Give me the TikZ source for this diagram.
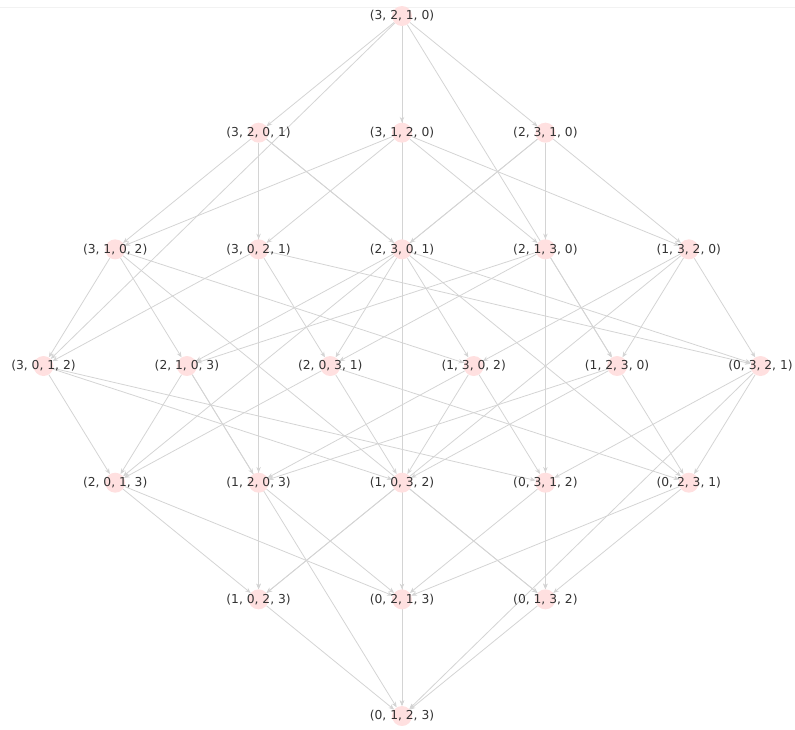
\documentclass[tikz,border=0pt]{standalone}
\usepackage{fontspec}
\setsansfont{DejaVu Sans}
\usepackage{tikz}
\usetikzlibrary{arrows.meta, backgrounds}
\definecolor{rosaNodo}{RGB}{255,224,224}
\definecolor{grisArista}{RGB}{212,212,212}
\definecolor{grisPunta}{RGB}{185,185,185}
\definecolor{grisTexto}{RGB}{51,51,51}
\newcommand{\permlbl}[1]{\makebox[0pt]{(#1)}}
\tikzset{
  bg/perm/.style={circle, fill=rosaNodo, draw=none, inner sep=0pt,
    minimum size=20pt, font=\sffamily\fontsize{12.3}{14}\selectfont,
    text=grisTexto},
  bg/arr/.style={-{Stealth[length=5.5pt,width=4.5pt,fill=grisPunta]},
    line width=0.8pt, draw=grisArista}
}

\begin{document}
\begin{tikzpicture}[x=71.7pt, y=-116.67pt]
  \useasboundingbox (-402pt,16pt) rectangle (393pt,-713pt);
  \draw[black!5] (-402pt,9pt) -- (393pt,9pt);

  % rango 6
  \node[bg/perm] (p3210) at (0,0) {\permlbl{3, 2, 1, 0}};
  % rango 5
  \node[bg/perm] (p3201) at (-2,1) {\permlbl{3, 2, 0, 1}};
  \node[bg/perm] (p3120) at (0,1)  {\permlbl{3, 1, 2, 0}};
  \node[bg/perm] (p2310) at (2,1)  {\permlbl{2, 3, 1, 0}};
  % rango 4
  \node[bg/perm] (p3102) at (-4,2) {\permlbl{3, 1, 0, 2}};
  \node[bg/perm] (p3021) at (-2,2) {\permlbl{3, 0, 2, 1}};
  \node[bg/perm] (p2301) at (0,2)  {\permlbl{2, 3, 0, 1}};
  \node[bg/perm] (p2130) at (2,2)  {\permlbl{2, 1, 3, 0}};
  \node[bg/perm] (p1320) at (4,2)  {\permlbl{1, 3, 2, 0}};
  % rango 3
  \node[bg/perm] (p3012) at (-5,3) {\permlbl{3, 0, 1, 2}};
  \node[bg/perm] (p2103) at (-3,3) {\permlbl{2, 1, 0, 3}};
  \node[bg/perm] (p2031) at (-1,3) {\permlbl{2, 0, 3, 1}};
  \node[bg/perm] (p1302) at (1,3)  {\permlbl{1, 3, 0, 2}};
  \node[bg/perm] (p1230) at (3,3)  {\permlbl{1, 2, 3, 0}};
  \node[bg/perm] (p0321) at (5,3)  {\permlbl{0, 3, 2, 1}};
  % rango 2
  \node[bg/perm] (p2013) at (-4,4) {\permlbl{2, 0, 1, 3}};
  \node[bg/perm] (p1203) at (-2,4) {\permlbl{1, 2, 0, 3}};
  \node[bg/perm] (p1032) at (0,4)  {\permlbl{1, 0, 3, 2}};
  \node[bg/perm] (p0312) at (2,4)  {\permlbl{0, 3, 1, 2}};
  \node[bg/perm] (p0231) at (4,4)  {\permlbl{0, 2, 3, 1}};
  % rango 1
  \node[bg/perm] (p1023) at (-2,5) {\permlbl{1, 0, 2, 3}};
  \node[bg/perm] (p0213) at (0,5)  {\permlbl{0, 2, 1, 3}};
  \node[bg/perm] (p0132) at (2,5)  {\permlbl{0, 1, 3, 2}};
  % rango 0
  \node[bg/perm] (p0123) at (0,6)  {\permlbl{0, 1, 2, 3}};

  \begin{scope}[on background layer]
  \draw[bg/arr] (p3210) -- (p2310);
  \draw[bg/arr] (p3210) -- (p1230);
  \draw[bg/arr] (p3210) -- (p0213);
  \draw[bg/arr] (p3210) -- (p3120);
  \draw[bg/arr] (p3210) -- (p3012);
  \draw[bg/arr] (p3210) -- (p3201);

  \draw[bg/arr] (p3201) -- (p2301);
  \draw[bg/arr] (p3201) -- (p0231);
  \draw[bg/arr] (p3201) -- (p1203);
  \draw[bg/arr] (p3201) -- (p3021);
  \draw[bg/arr] (p3201) -- (p3102);
  \draw[bg/arr] (p3120) -- (p1320);
  \draw[bg/arr] (p3120) -- (p2130);
  \draw[bg/arr] (p3120) -- (p0123);
  \draw[bg/arr] (p3120) -- (p3021);
  \draw[bg/arr] (p3120) -- (p3102);
  \draw[bg/arr] (p2310) -- (p1320);
  \draw[bg/arr] (p2310) -- (p0312);
  \draw[bg/arr] (p2310) -- (p2130);
  \draw[bg/arr] (p2310) -- (p2013);
  \draw[bg/arr] (p2310) -- (p2301);

  \draw[bg/arr] (p3102) -- (p1302);
  \draw[bg/arr] (p3102) -- (p0132);
  \draw[bg/arr] (p3102) -- (p2103);
  \draw[bg/arr] (p3102) -- (p3012);
  \draw[bg/arr] (p3021) -- (p0321);
  \draw[bg/arr] (p3021) -- (p2031);
  \draw[bg/arr] (p3021) -- (p1023);
  \draw[bg/arr] (p3021) -- (p3012);
  \draw[bg/arr] (p2301) -- (p0321);
  \draw[bg/arr] (p2301) -- (p1302);
  \draw[bg/arr] (p2301) -- (p2031);
  \draw[bg/arr] (p2301) -- (p2103);
  \draw[bg/arr] (p2130) -- (p1230);
  \draw[bg/arr] (p2130) -- (p0132);
  \draw[bg/arr] (p2130) -- (p2031);
  \draw[bg/arr] (p2130) -- (p2103);
  \draw[bg/arr] (p1320) -- (p0321);
  \draw[bg/arr] (p1320) -- (p1230);
  \draw[bg/arr] (p1320) -- (p1023);
  \draw[bg/arr] (p1320) -- (p1302);

  \draw[bg/arr] (p3012) -- (p0312);
  \draw[bg/arr] (p3012) -- (p1032);
  \draw[bg/arr] (p3012) -- (p2013);
  \draw[bg/arr] (p2103) -- (p1203);
  \draw[bg/arr] (p2103) -- (p0123);
  \draw[bg/arr] (p2103) -- (p2013);
  \draw[bg/arr] (p2031) -- (p0231);
  \draw[bg/arr] (p2031) -- (p1032);
  \draw[bg/arr] (p2031) -- (p2013);
  \draw[bg/arr] (p1302) -- (p0312);
  \draw[bg/arr] (p1302) -- (p1032);
  \draw[bg/arr] (p1302) -- (p1203);
  \draw[bg/arr] (p1230) -- (p0231);
  \draw[bg/arr] (p1230) -- (p1032);
  \draw[bg/arr] (p1230) -- (p1203);
  \draw[bg/arr] (p0321) -- (p0231);
  \draw[bg/arr] (p0321) -- (p0123);
  \draw[bg/arr] (p0321) -- (p0312);

  \draw[bg/arr] (p2013) -- (p0213);
  \draw[bg/arr] (p2013) -- (p1023);
  \draw[bg/arr] (p1203) -- (p0213);
  \draw[bg/arr] (p1203) -- (p1023);
  \draw[bg/arr] (p1032) -- (p0132);
  \draw[bg/arr] (p1032) -- (p1023);
  \draw[bg/arr] (p0312) -- (p0132);
  \draw[bg/arr] (p0312) -- (p0213);
  \draw[bg/arr] (p0231) -- (p0132);
  \draw[bg/arr] (p0231) -- (p0213);

  \draw[bg/arr] (p1023) -- (p0123);
  \draw[bg/arr] (p0213) -- (p0123);
  \draw[bg/arr] (p0132) -- (p0123);
  \end{scope}
\end{tikzpicture}
\end{document}
